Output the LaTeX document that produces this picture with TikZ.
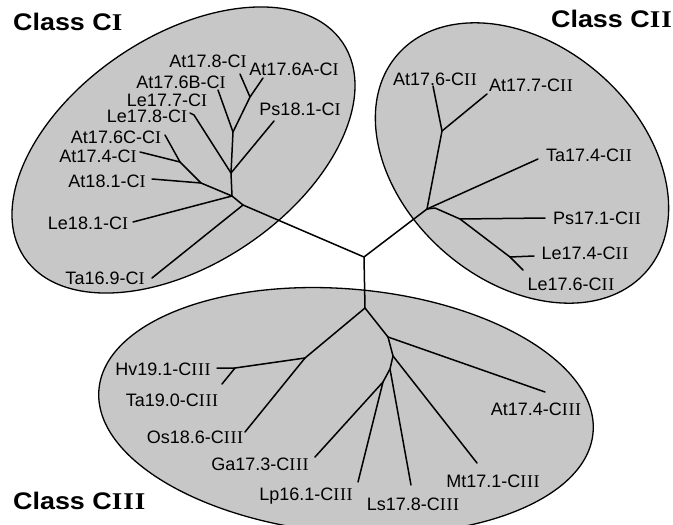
\documentclass[tikz,border=0pt]{standalone}
\usepackage{fontspec}
\usepackage{graphicx}
\setmainfont{Liberation Sans}
\newfontfamily\serifI{Liberation Serif}
\newcommand{\cone}{C{\serifI I}}
\newcommand{\ctwo}{C{\serifI I\kern0.6pt I}}
\newcommand{\cthree}{C{\serifI I\kern0.6pt I\kern0.6pt I}}
\newcommand{\classttl}[1]{\scalebox{1.12}[1]{\fontsize{24}{26}\selectfont\bfseries Class C{\serifI\bfseries #1}}}
\begin{document}
\begin{tikzpicture}[x=1pt,y=-1pt, line cap=round, line join=round,
  clade/.style={draw=black, line width=1.3pt, fill=black!22},
  br/.style={line width=1.5pt},
  lab/.style={anchor=base, inner sep=0pt, text height=13pt, text depth=3pt, font=\fontsize{18}{20}\selectfont},
  ttl/.style={inner sep=0pt}]
\useasboundingbox[fill=white] (0,0) rectangle (673,525);

% clade ellipses
\draw[clade, rotate around={34:(183.5,150)}] (183.5,150) ellipse [x radius=192pt, y radius=114pt];
\draw[clade, rotate around={-41:(522,163)}] (522,163) ellipse [x radius=165pt, y radius=118pt];
\draw[clade, rotate around={-5:(346,411)}] (346,411) ellipse [x radius=248pt, y radius=122pt];

% titles
\node[ttl, anchor=base west] (ttlI) at (13,30) {\classttl{I}};
\node[ttl, anchor=base east] (ttlII) at (672,27) {\classttl{I\kern1pt I}};
\node[ttl, anchor=base west] (ttlIII) at (13,509) {\classttl{I\kern1pt I\kern1pt I}};

% ---------- tree coordinates ----------
\coordinate (J) at (364,257);
% class I
\coordinate (R1) at (243,205);
\coordinate (N1) at (232,196);
\coordinate (A2) at (201,183);
\coordinate (A1) at (180,162);
\coordinate (U1) at (231,173);
\coordinate (U2) at (233,132);
\coordinate (U3) at (250,97);
\coordinate (L1) at (152,278);
\coordinate (L2) at (133,222);
\coordinate (L3) at (152,179);
\coordinate (L4) at (140,152);
\coordinate (L5) at (165,135);
\coordinate (L6) at (194,115);
\coordinate (L6b) at (190,113);
\coordinate (L7) at (274,121);
\coordinate (L8) at (218,90);
\coordinate (L9) at (240,74);
\coordinate (L10) at (263,78);
% class II
\coordinate (R2) at (427,209);
\coordinate (B1) at (442,131);
\coordinate (P0) at (435,208);
\coordinate (P1) at (460,219);
\coordinate (P2) at (510,257);
\coordinate (M1a) at (433,86);
\coordinate (M2a) at (487,94);
\coordinate (M3a) at (538,159);
\coordinate (M4a) at (545,218);
\coordinate (M5a) at (534,256);
\coordinate (M6a) at (523,270);
% class III
\coordinate (R3) at (365,308);
\coordinate (H1) at (305,358);
\coordinate (H2) at (235,368);
\coordinate (K1) at (388,337);
\coordinate (K2) at (393,356);
\coordinate (K3) at (390,369);
\coordinate (K4) at (383,382);
\coordinate (Q1) at (217,368);
\coordinate (Q2) at (222,384);
\coordinate (Q3) at (245,432);
\coordinate (Q4) at (315,457);
\coordinate (Q5) at (358,482);
\coordinate (Q6) at (411,485);
\coordinate (Q7) at (477,463);
\coordinate (Q8) at (545,392);

% ---------- branches ----------
\draw[br] (R1) -- (J) -- (R2);
\draw[br] (J) -- (R3);
% class I
\draw[br] (L1) -- (R1) -- (N1) -- (L2);
\draw[br] (N1) -- (A2) -- (L3);
\draw[br] (A2) -- (A1) -- (L4);
\draw[br] (A1) -- (L5);
\draw[br] (N1) -- (U1) -- (L6) -- (L6b);
\draw[br] (U1) -- (L7);
\draw[br] (U1) -- (U2) -- (L8);
\draw[br] (U2) -- (U3) -- (L9);
\draw[br] (U3) -- (L10);
% class II
\draw[br] (R2) -- (B1) -- (M1a);
\draw[br] (B1) -- (M2a);
\draw[br] (R2) -- (M3a);
\draw[br] (R2) -- (P0) -- (P1) -- (M4a);
\draw[br] (P1) -- (P2) -- (M6a);
\draw[br] (P2) -- (M5a);
% class III
\draw[br] (R3) -- (H1) -- (H2) -- (Q1);
\draw[br] (H2) -- (Q2);
\draw[br] (H1) -- (Q3);
\draw[br] (R3) -- (K1) -- (Q8);
\draw[br] (K1) -- (K2) -- (Q7);
\draw[br] (K2) -- (K3) -- (Q6);
\draw[br] (K3) -- (K4) -- (Q4);
\draw[br] (K4) -- (Q5);

% ---------- labels ----------
% class I
\node[lab] (tAt178) at (208,67.5) {At17.8-\cone};
\node[lab] (tAt176A) at (294,75) {At17.6A-\cone};
\node[lab] (tAt176B) at (181,88) {At17.6B-\cone};
\node[lab] (tLe177) at (167,106) {Le17.7-\cone};
\node[lab] (tLe178) at (147,122) {Le17.8-\cone};
\node[lab] (tPs181) at (300,115) {Ps18.1-\cone};
\node[lab] (tAt176C) at (116,143) {At17.6C-\cone};
\node[lab] (tAt174) at (98,162) {At17.4-\cone};
\node[lab] (tAt181) at (107,187.5) {At18.1-\cone};
\node[lab] (tLe181) at (88,229.5) {Le18.1-\cone};
\node[lab] (tTa169) at (105,284) {Ta16.9-\cone};
% class II
\node[lab] (tAt176) at (435,85) {At17.6-\ctwo};
\node[lab] (tAt177) at (531,91.5) {At17.7-\ctwo};
\node[lab] (tTa174) at (589,161.5) {Ta17.4-\ctwo};
\node[lab] (tPs171) at (597,224) {Ps17.1-\ctwo};
\node[lab] (tLe174) at (585,259) {Le17.4-\ctwo};
\node[lab] (tLe176) at (571,290.5) {Le17.6-\ctwo};
% class III
\node[lab] (tHv191) at (163,375) {Hv19.1-\cthree};
\node[lab] (tTa190) at (172,406) {Ta19.0-\cthree};
\node[lab] (tOs186) at (195,443) {Os18.6-\cthree};
\node[lab] (tGa173) at (260,470) {Ga17.3-\cthree};
\node[lab] (tLp161) at (306,500) {Lp16.1-\cthree};
\node[lab] (tLs178) at (413,510) {Ls17.8-\cthree};
\node[lab] (tMt171) at (493,487) {Mt17.1-\cthree};
\node[lab] (tAt174III) at (536,415) {At17.4-\cthree};
\end{tikzpicture}
\end{document}
